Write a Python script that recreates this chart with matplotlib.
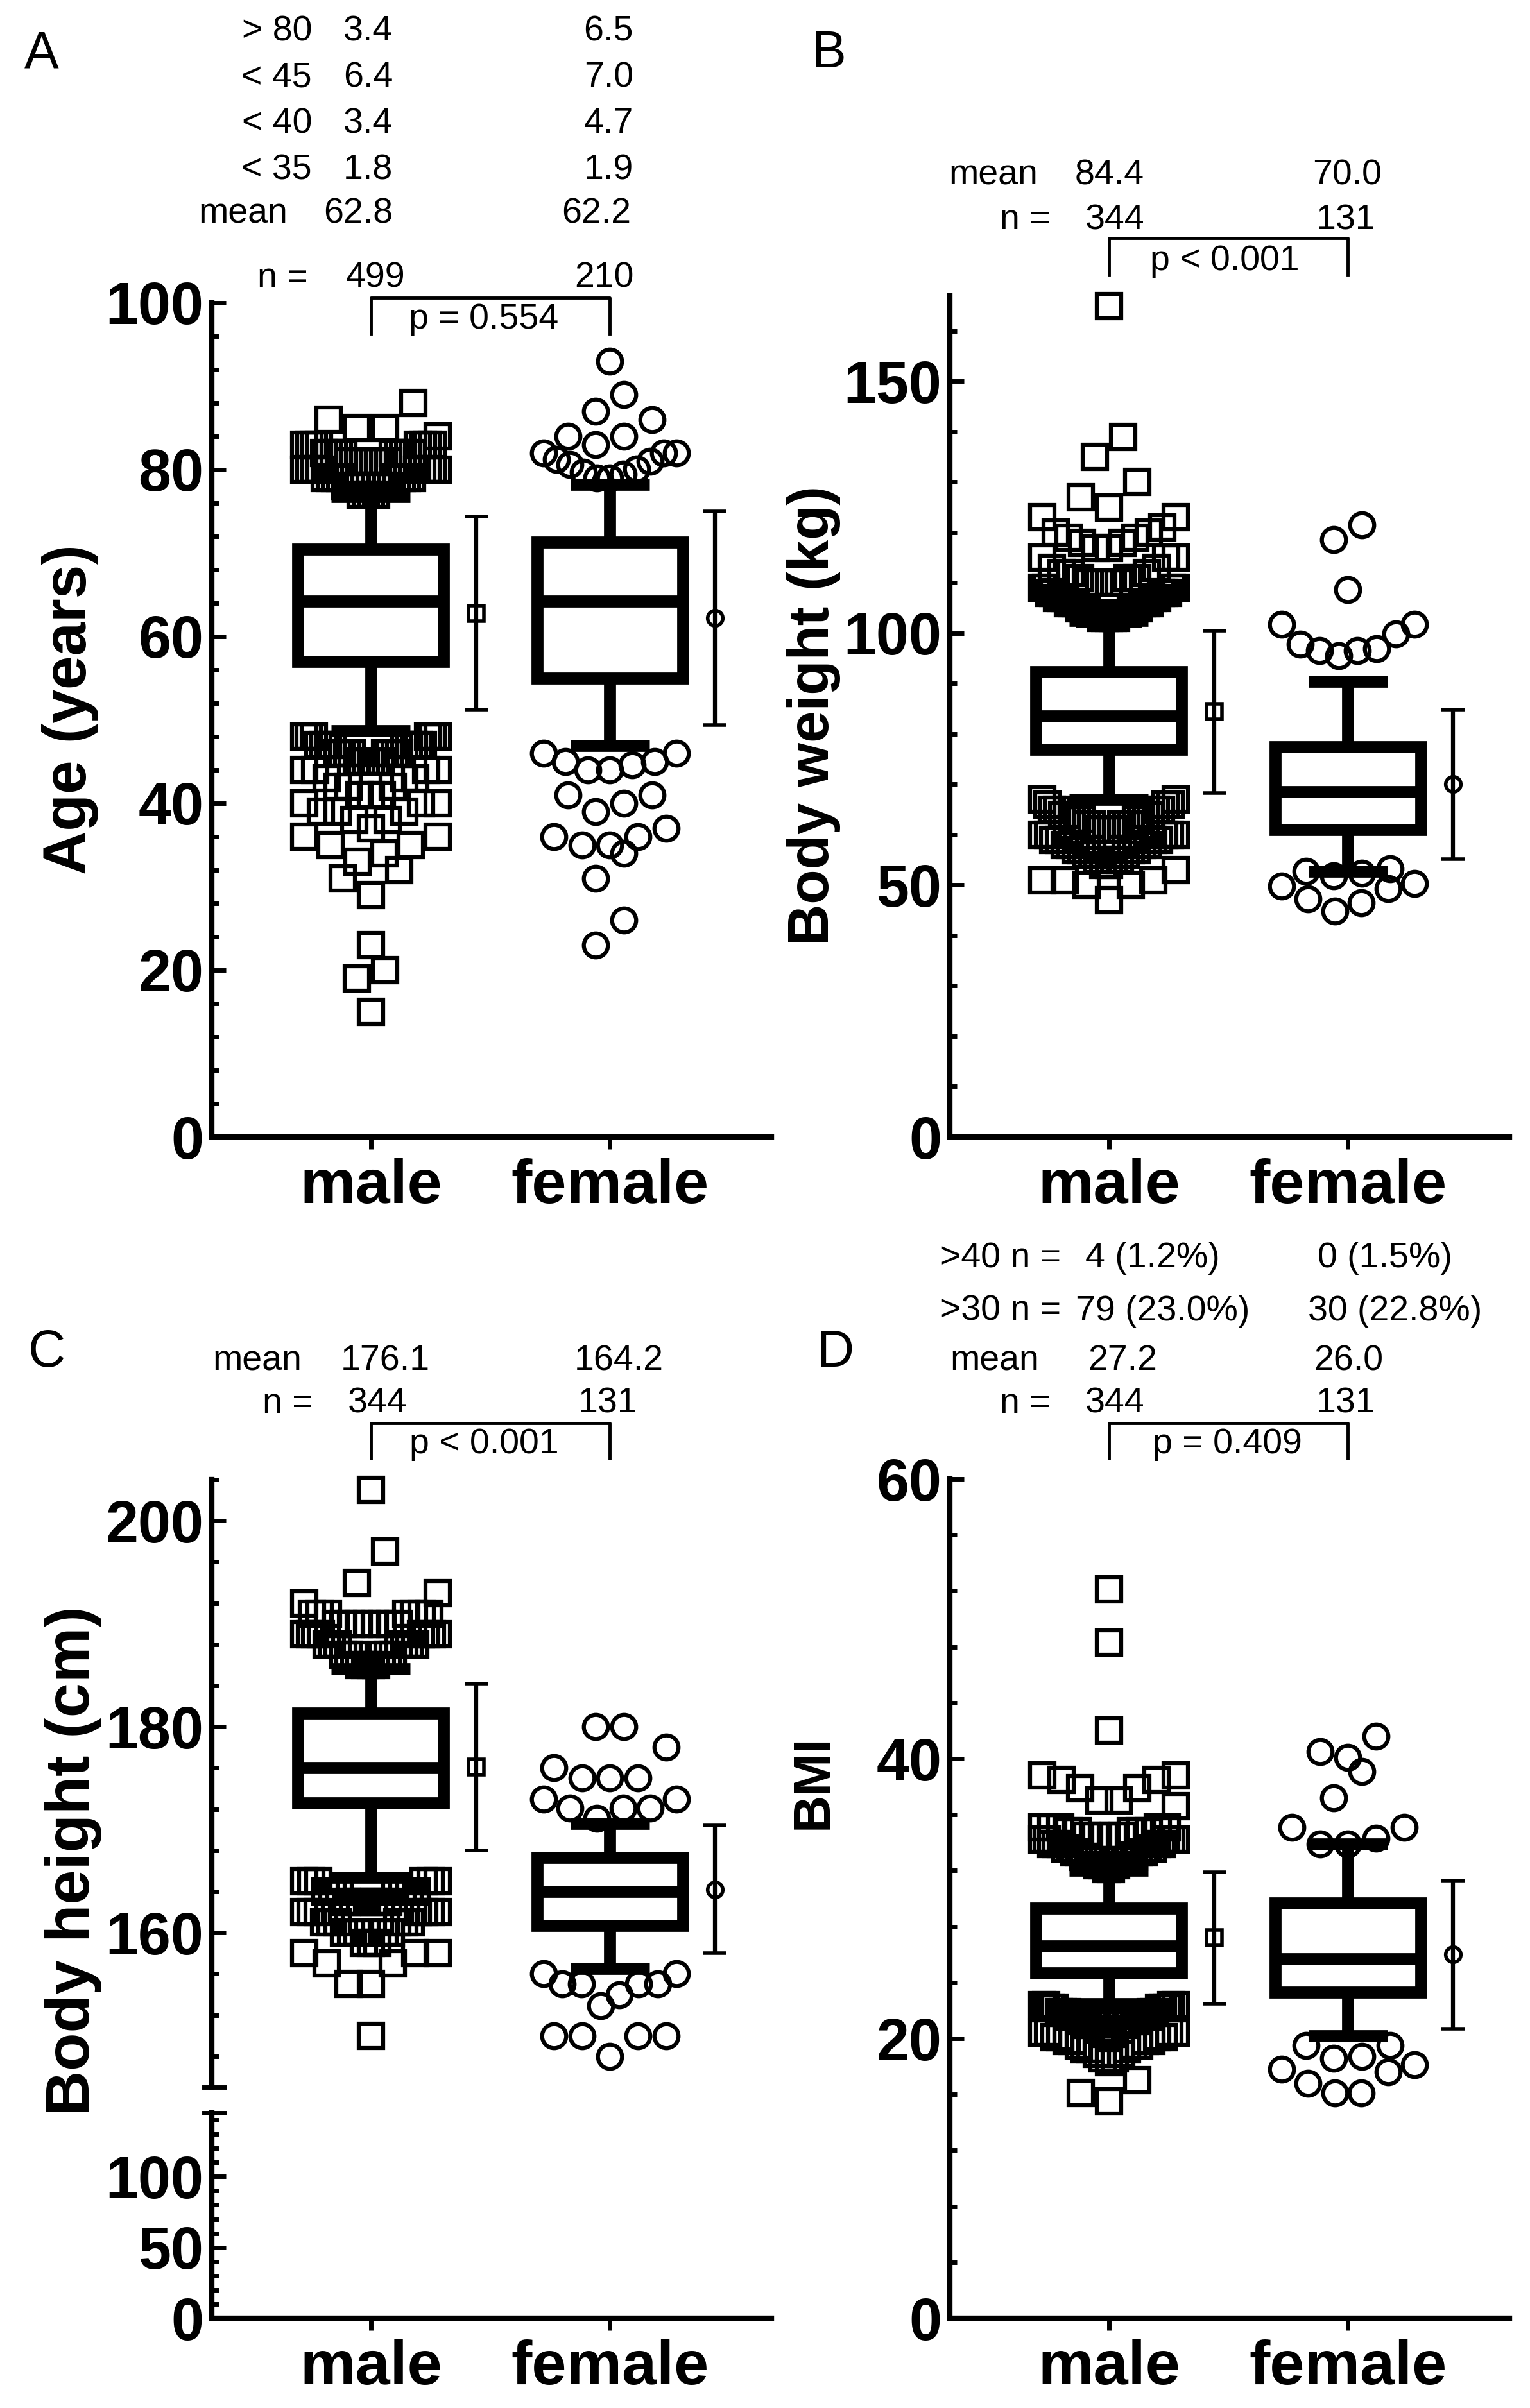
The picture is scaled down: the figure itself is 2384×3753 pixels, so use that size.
import numpy as np
import matplotlib
matplotlib.use("Agg")
import matplotlib.pyplot as plt
from matplotlib.lines import Line2D
from matplotlib.transforms import blended_transform_factory

plt.rcParams['font.family'] = ['Liberation Sans', 'DejaVu Sans']

W, H = 2384, 3753
DPI = 100

groups = ["male", "female"]

# [lower whisker, Q1, median, Q3, upper whisker]
age_box = [[48.7, 57.0, 64.2, 70.5, 76.8], [46.9, 55.0, 64.2, 71.3, 78.2]]
age_mean = [62.8, 62.2]
age_sd = [11.6, 12.8]
# outliers: values and how many points sit at each value
age_out_m_val = [15, 19, 20, 23, 29, 31, 32, 33, 34, 35, 36, 37, 38, 39, 40, 41, 42, 43, 44,
                 45, 46, 47, 48, 77, 78, 79, 80, 81, 82, 83, 84, 85, 86, 88]
age_out_m_cnt = [1, 1, 1, 1, 1, 1, 1, 1, 1, 2, 2, 1, 2, 3, 3, 3, 3, 3, 4,
                 6, 8, 9, 6, 4, 6, 8, 9, 9, 10, 8, 1, 2, 1, 1]
age_out_f = [23, 26, 31, 34, 35, 35, 36, 36, 37, 39, 40, 41, 41, 44, 44, 44.6, 45, 45, 46, 46,
             79, 79, 79.5, 79.7, 80.1, 80.6, 81, 81.2, 82, 82, 82, 83, 84, 84, 86, 87, 89, 93]

weight_box = [[67.0, 76.9, 83.6, 92.4, 102.6], [52.7, 61.0, 68.5, 77.4, 90.5]]
weight_mean = [84.4, 70.0]
weight_sd = [16.1, 14.8]
weight_out_m_val = [47, 50, 51, 53, 54, 55, 56, 57, 58, 59, 60, 61, 62, 63, 64, 65, 66, 67,
                    103, 104, 105, 106, 107, 108, 109, 110, 111, 112, 113, 115, 117, 118, 119,
                    120, 121, 123, 125, 127, 130, 135, 139, 165]
weight_out_m_cnt = [1, 2, 3, 1, 2, 3, 3, 4, 4, 4, 5, 5, 5, 5, 4, 4, 3, 2,
                    5, 6, 6, 6, 5, 5, 4, 4, 3, 3, 2, 3, 2, 2, 2,
                    2, 1, 2, 1, 1, 1, 1, 1, 1]
weight_out_f = [44.8, 46.5, 47.3, 49.3, 49.8, 50.3, 51.9, 52.4, 52.8, 53.2,
                95.6, 96.5, 96.6, 96.9, 97.8, 99.9, 101.8, 101.8, 108.6, 118.6, 121.5]

height_box = [[165.4, 172.6, 176.0, 181.3, 185.6], [156.5, 160.7, 164.0, 167.3, 170.6]]
height_mean = [176.1, 164.2]
height_sd = [8.1, 6.2]
height_out_m_val = [150, 155, 157, 158, 159, 160, 161, 162, 163, 164, 165,
                    186, 187, 188, 189, 190, 191, 192, 193, 194, 197, 203]
height_out_m_cnt = [1, 2, 2, 3, 3, 5, 6, 7, 7, 7, 6,
                    4, 6, 7, 8, 9, 7, 1, 1, 1, 1, 1]
height_out_f = [148, 150, 150, 150, 150, 152.9, 154, 155, 155, 155, 155, 156, 156,
                171.1, 172.1, 172.1, 172.1, 173, 173, 175, 175, 175, 176, 178, 180, 180]

bmi_box = [[22.5, 24.7, 26.6, 29.3, 32.0], [20.2, 23.3, 25.7, 29.7, 33.9]]
bmi_mean = [27.2, 26.0]
bmi_sd = [4.7, 5.3]
bmi_out_m_val = [15.5, 16.1, 17.0, 18.3, 18.6, 18.9, 19.2, 19.5, 19.8, 20.1, 20.4, 20.7,
                 21.0, 21.3, 21.6, 21.9, 22.2, 22.4,
                 32.1, 32.4, 32.7, 33.0, 33.3, 33.6, 33.9, 34.2, 34.5, 34.8, 35.1,
                 36.6, 37.0, 37.9, 38.5, 38.8, 42.0, 48.3, 52.1]
bmi_out_m_cnt = [1, 1, 1, 1, 2, 2, 3, 3, 4, 4, 4, 4,
                 5, 5, 5, 5, 5, 4,
                 2, 3, 3, 4, 4, 4, 5, 5, 5, 5, 5,
                 1, 2, 2, 2, 2, 1, 1, 1]
bmi_out_f = [16.1, 16.1, 16.8, 17.6, 17.8, 18.1, 18.6, 18.7, 19.5, 19.5,
             33.9, 33.9, 34.3, 35.1, 35.1, 37.2, 39.1, 40.1, 40.5, 41.6]

XLIM = (0.335, 2.675)
PPX = 373.0          # pixels per x unit
BOX_W = 0.61
LW_BOX = 13.5
MS_OUT = 27
MEW_OUT = 4.5


def spread(values, ppy, row_px=50, slot=44, half_w=104):
    # group points into rows, lowest value in the middle, higher ones outwards
    vals = np.sort(np.asarray(values, float))
    xs = np.zeros(len(vals))
    i = 0
    while i < len(vals):
        j = i
        while j < len(vals) and (vals[j] - vals[i]) * ppy < row_px:
            j += 1
        n = j - i
        s = slot if n == 1 else min(slot, 2 * half_w / (n - 1))
        if n % 2:
            order = [0] + [k * sg for k in range(1, n // 2 + 1) for sg in (-1, 1)]
        else:
            order = [(k + 0.5) * sg for k in range(n // 2) for sg in (-1, 1)]
        xs[i:j] = np.array(order[:n]) * s
        i = j
    return xs / PPX, vals


def draw_group(ax, pos, box, mean, sd, outliers, marker, ppy):
    dx, vals = spread(outliers, ppy)
    ax.plot(pos + dx, vals, linestyle='none', marker=marker, ms=MS_OUT, mfc='none',
            mec='k', mew=MEW_OUT, zorder=2, clip_on=False)
    st = dict(whislo=box[0], q1=box[1], med=box[2], q3=box[3], whishi=box[4], fliers=[])
    ax.bxp([st], positions=[pos], widths=BOX_W, capwidths=0.33, showfliers=False,
           patch_artist=True, zorder=3, manage_ticks=False,
           boxprops=dict(facecolor='white', edgecolor='k', linewidth=LW_BOX, joinstyle='miter'),
           medianprops=dict(color='k', linewidth=LW_BOX, solid_capstyle='butt'),
           whiskerprops=dict(color='k', linewidth=LW_BOX, solid_capstyle='butt'),
           capprops=dict(color='k', linewidth=LW_BOX, solid_capstyle='butt'))
    ax.errorbar(pos + 0.44, mean, yerr=sd, fmt=marker, ms=17, mfc='none', mec='k', mew=4,
                ecolor='k', elinewidth=4.5, capsize=13, capthick=4.5, zorder=4)


def style(ax, ylim, major, minor, xaxis=True):
    ax.set_xlim(*XLIM)
    ax.set_ylim(*ylim)
    ax.patch.set_visible(False)
    for s in ['top', 'right']:
        ax.spines[s].set_visible(False)
    ax.spines['left'].set_linewidth(6)
    ax.spines['bottom'].set_linewidth(6)
    ax.set_yticks(major)
    ax.set_yticks(minor, minor=True)
    ax.tick_params(axis='y', which='major', direction='in', length=16, width=5, pad=9,
                   labelsize=66)
    ax.tick_params(axis='y', which='minor', direction='in', length=8, width=5)
    for lab in ax.get_yticklabels():
        lab.set_fontweight('bold')
    if xaxis:
        ax.set_xticks([1, 2], groups)
        ax.tick_params(axis='x', direction='out', length=14, width=5, pad=10, labelsize=70)
        for lab in ax.get_xticklabels():
            lab.set_fontweight('bold')
    else:
        ax.spines['bottom'].set_visible(False)
        ax.set_xticks([])


fig = plt.figure(figsize=(W / DPI, H / DPI), dpi=DPI)


def add_ax(left, bottom_px, top_px):
    return fig.add_axes([left / W, 1 - bottom_px / H, 872 / W, (bottom_px - top_px) / H])


def txt(x, y, s, ha='right', size=40, **kw):
    # x, y in pixels from top-left, y = baseline
    fig.text(x / W, 1 - y / H, s, ha=ha, va='baseline', fontsize=size, **kw)


def bracket(ax, y_top, y_bot):
    tr = blended_transform_factory(ax.transData, fig.transFigure)
    fig.add_artist(Line2D([1, 1, 2, 2], [1 - y_bot / H, 1 - y_top / H, 1 - y_top / H, 1 - y_bot / H],
                          transform=tr, color='k', lw=3.5))


# ---- A: age
axA = add_ax(330, 1772, 472)
draw_group(axA, 1, age_box[0], age_mean[0], age_sd[0],
           np.repeat(age_out_m_val, age_out_m_cnt), 's', 13.0)
draw_group(axA, 2, age_box[1], age_mean[1], age_sd[1], age_out_f, 'o', 13.0)
style(axA, (0, 100), np.arange(0, 101, 20), np.arange(4, 100, 4))

# ---- B: body weight
axB = add_ax(1480, 1772, 461)
draw_group(axB, 1, weight_box[0], weight_mean[0], weight_sd[0],
           np.repeat(weight_out_m_val, weight_out_m_cnt), 's', 7.853)
draw_group(axB, 2, weight_box[1], weight_mean[1], weight_sd[1], weight_out_f, 'o', 7.853)
style(axB, (0, 167), [0, 50, 100, 150], np.arange(10, 167, 10))

# ---- C: body height (broken axis)
axC = add_ax(330, 3253, 2306)
draw_group(axC, 1, height_box[0], height_mean[0], height_sd[0],
           np.repeat(height_out_m_val, height_out_m_cnt), 's', 16.05)
draw_group(axC, 2, height_box[1], height_mean[1], height_sd[1], height_out_f, 'o', 16.05)
style(axC, (145, 204), [160, 180, 200], np.arange(148, 205, 4), xaxis=False)
axC2 = add_ax(330, 3613, 3293)
style(axC2, (0, 145), [0, 50, 100], np.arange(10, 145, 10))
for yb in (3253, 3293):
    fig.add_artist(Line2D([318 / W, 350 / W], [1 - yb / H] * 2, color='k', lw=5))

# ---- D: BMI
axD = add_ax(1480, 3613, 2305)
draw_group(axD, 1, bmi_box[0], bmi_mean[0], bmi_sd[0],
           np.repeat(bmi_out_m_val, bmi_out_m_cnt), 's', 21.8)
draw_group(axD, 2, bmi_box[1], bmi_mean[1], bmi_sd[1], bmi_out_f, 'o', 21.8)
style(axD, (0, 60), [0, 20, 40, 60], np.arange(4, 60, 4))

# ---- y labels
fig.text(110 / W, 1 - 1106 / H, "Age (years)", rotation=90, ha='center', va='center',
         fontsize=68, fontweight='bold')
fig.text(1268 / W, 1 - 1115 / H, "Body weight (kg)", rotation=90, ha='center', va='center',
         fontsize=64, fontweight='bold')
fig.text(114 / W, 1 - 2900 / H, "Body height (cm)", rotation=90, ha='center', va='center',
         fontsize=70, fontweight='bold')
fig.text(1268 / W, 1 - 2777 / H, "BMI", rotation=90, ha='center', va='center',
         fontsize=58, fontweight='bold')

# ---- panel letters
txt(38, 105, "A", ha='left', size=58)
txt(1264, 105, "B", ha='left', size=58)
txt(44, 2130, "C", ha='left', size=58)
txt(1272, 2130, "D", ha='left', size=58)

# ---- panel A annotations
rows_A = [("> 80", "3.4", "6.5", 64), ("< 45", "6.4", "7.0", 136),
          ("< 40", "3.4", "4.7", 207), ("< 35", "1.8", "1.9", 279)]
for lab, m, f, yb in rows_A:
    txt(486, yb, lab)
    txt(612, yb, m)
    txt(987, yb, f)
txt(448, 348, "mean")
txt(612, 348, f"{age_mean[0]:.1f}")
txt(983, 348, f"{age_mean[1]:.1f}")
txt(480, 448, "n =")
txt(631, 448, "499")
txt(988, 448, "210")
bracket(axA, 464, 520)
txt(754, 512, "p = 0.554", ha='center')

# ---- panel B annotations
txt(1617, 288, "mean")
txt(1783, 288, f"{weight_mean[0]:.1f}")
txt(2153, 288, f"{weight_mean[1]:.1f}")
txt(1637, 357, "n =")
txt(1783, 357, "344")
txt(2143, 357, "131")
bracket(axB, 371, 428)
txt(1908, 421, "p < 0.001", ha='center')

# ---- panel C annotations
txt(470, 2135, "mean")
txt(670, 2135, f"{height_mean[0]:.1f}")
txt(1034, 2135, f"{height_mean[1]:.1f}")
txt(488, 2202, "n =")
txt(634, 2202, "344")
txt(993, 2202, "131")
bracket(axC, 2218, 2273)
txt(754, 2265, "p < 0.001", ha='center')

# ---- panel D annotations
txt(1653, 1975, ">40 n =")
txt(1691, 1975, "4 (1.2%)", ha='left')
txt(2053, 1975, "0 (1.5%)", ha='left')
txt(1653, 2058, ">30 n =")
txt(1676, 2058, "79 (23.0%)", ha='left')
txt(2038, 2058, "30 (22.8%)", ha='left')
txt(1619, 2135, "mean")
txt(1803, 2135, f"{bmi_mean[0]:.1f}")
txt(2155, 2135, f"{bmi_mean[1]:.1f}")
txt(1637, 2202, "n =")
txt(1783, 2202, "344")
txt(2143, 2202, "131")
bracket(axD, 2218, 2273)
txt(1912, 2265, "p = 0.409", ha='center')

fig.savefig("out.png", dpi=DPI)
